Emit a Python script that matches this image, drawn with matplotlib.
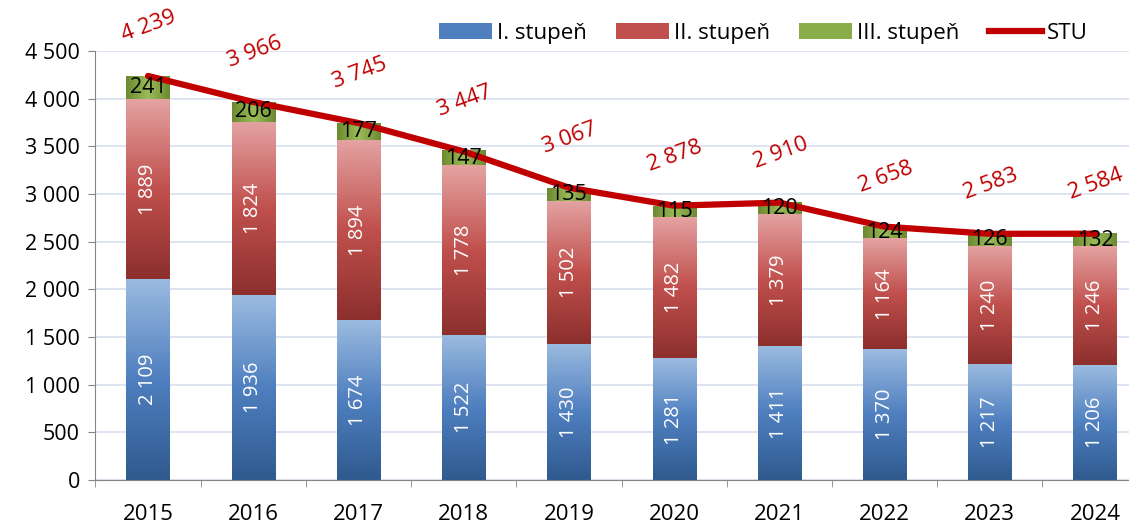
import matplotlib
matplotlib.use("Agg")
import matplotlib.pyplot as plt
import numpy as np
from matplotlib.colors import LinearSegmentedColormap
from matplotlib.ticker import FuncFormatter, MultipleLocator
from matplotlib.patches import Patch
from matplotlib.lines import Line2D

years = ["2015", "2016", "2017", "2018", "2019", "2020", "2021", "2022", "2023", "2024"]
stupen1 = [2109, 1936, 1674, 1522, 1430, 1281, 1411, 1370, 1217, 1206]
stupen2 = [1889, 1824, 1894, 1778, 1502, 1482, 1379, 1164, 1240, 1246]
stupen3 = [241, 206, 177, 147, 135, 115, 120, 124, 126, 132]
stu = [4239, 3966, 3745, 3447, 3067, 2878, 2910, 2658, 2583, 2584]

plt.rcParams['font.family'] = ['Open Sans', 'DejaVu Sans']

def fmt(v):
    return f"{int(v):,}".replace(",", " ")

cm_blue = LinearSegmentedColormap.from_list("b", ["#2f5a8f", "#4f7fbf", "#9bbbe0"])
cm_red = LinearSegmentedColormap.from_list("r", ["#8c2f2d", "#c0504d", "#e4a3a2"])
cm_green = LinearSegmentedColormap.from_list("g", ["#6b8a30", "#9bbb59", "#6b8a30"])

fig = plt.figure(figsize=(11.29, 5.25), dpi=100)
ax = fig.add_axes([0.0845, 0.0857, 0.932, 0.817])

x = np.arange(len(years))
w = 0.41
b1 = ax.bar(x, stupen1, w, color="none", zorder=2)
bot2 = np.array(stupen1)
b2 = ax.bar(x, stupen2, w, bottom=bot2, color="none", zorder=2)
bot3 = bot2 + np.array(stupen2)
b3 = ax.bar(x, stupen3, w, bottom=bot3, color="none", zorder=2)

# gradient fills drawn into each bar rectangle
vert = np.linspace(0, 1, 256).reshape(-1, 1)
horiz = np.linspace(0, 1, 256).reshape(1, -1)
for bars, cmap, grad in [(b1, cm_blue, vert), (b2, cm_red, vert), (b3, cm_green, horiz)]:
    for r in bars:
        x0, y0 = r.get_x(), r.get_y()
        ax.imshow(grad, cmap=cmap, extent=(x0, x0 + r.get_width(), y0, y0 + r.get_height()),
                  origin="lower", aspect="auto", zorder=2, interpolation="bilinear")

ax.plot(x, stu, color="#c00000", lw=4.5, zorder=3, solid_capstyle="round")

for i in x:
    ax.text(i, stupen1[i] / 2, fmt(stupen1[i]), rotation=90, ha="center", va="center",
            color="white", fontsize=14.5, zorder=4)
    ax.text(i, bot2[i] + stupen2[i] / 2, fmt(stupen2[i]), rotation=90, ha="center", va="center",
            color="white", fontsize=14.5, zorder=4)
    ax.text(i, bot3[i] + stupen3[i] / 2, fmt(stupen3[i]), ha="center", va="center",
            color="black", fontsize=15.5, zorder=4)
    ax.annotate(fmt(stu[i]), (i, stu[i]), xytext=(1, 50), textcoords="offset pixels",
                ha="center", va="center", rotation=20, color="#c00000", fontsize=16,
                annotation_clip=False, zorder=4)

ax.set_xlim(-0.5, len(years) - 0.5)
ax.set_ylim(0, 4500)
ax.yaxis.set_major_locator(MultipleLocator(500))
ax.yaxis.set_major_formatter(FuncFormatter(lambda v, p: fmt(v)))
ax.set_xticks(x)
ax.set_xticklabels(years)
ax.set_xticks(np.arange(-0.5, len(years), 1), minor=True)
ax.tick_params(axis="x", which="major", length=0, labelsize=16, pad=17)
ax.tick_params(axis="x", which="minor", length=5, color="#868686")
ax.tick_params(axis="y", length=5, color="#868686", labelsize=15.5, pad=6)
ax.grid(axis="y", color="#d6e0ef", lw=1.2, zorder=0)
ax.set_axisbelow(True)
for s in ["top", "right"]:
    ax.spines[s].set_visible(False)
for s in ["left", "bottom"]:
    ax.spines[s].set_color("#868686")

handles = [Patch(facecolor="#4f7fbf"), Patch(facecolor="#c0504d"), Patch(facecolor="#8aad4a"),
           Line2D([], [], color="#c00000", lw=4.5)]
fig.legend(handles, ["I. stupeň", "II. stupeň", "III. stupeň", "STU"], ncol=4, frameon=False,
           loc="center", bbox_to_anchor=(0.676, 0.937), fontsize=16, handlelength=2.4,
           handletextpad=0.22, columnspacing=1.3)

fig.savefig("out.png", dpi=100)
